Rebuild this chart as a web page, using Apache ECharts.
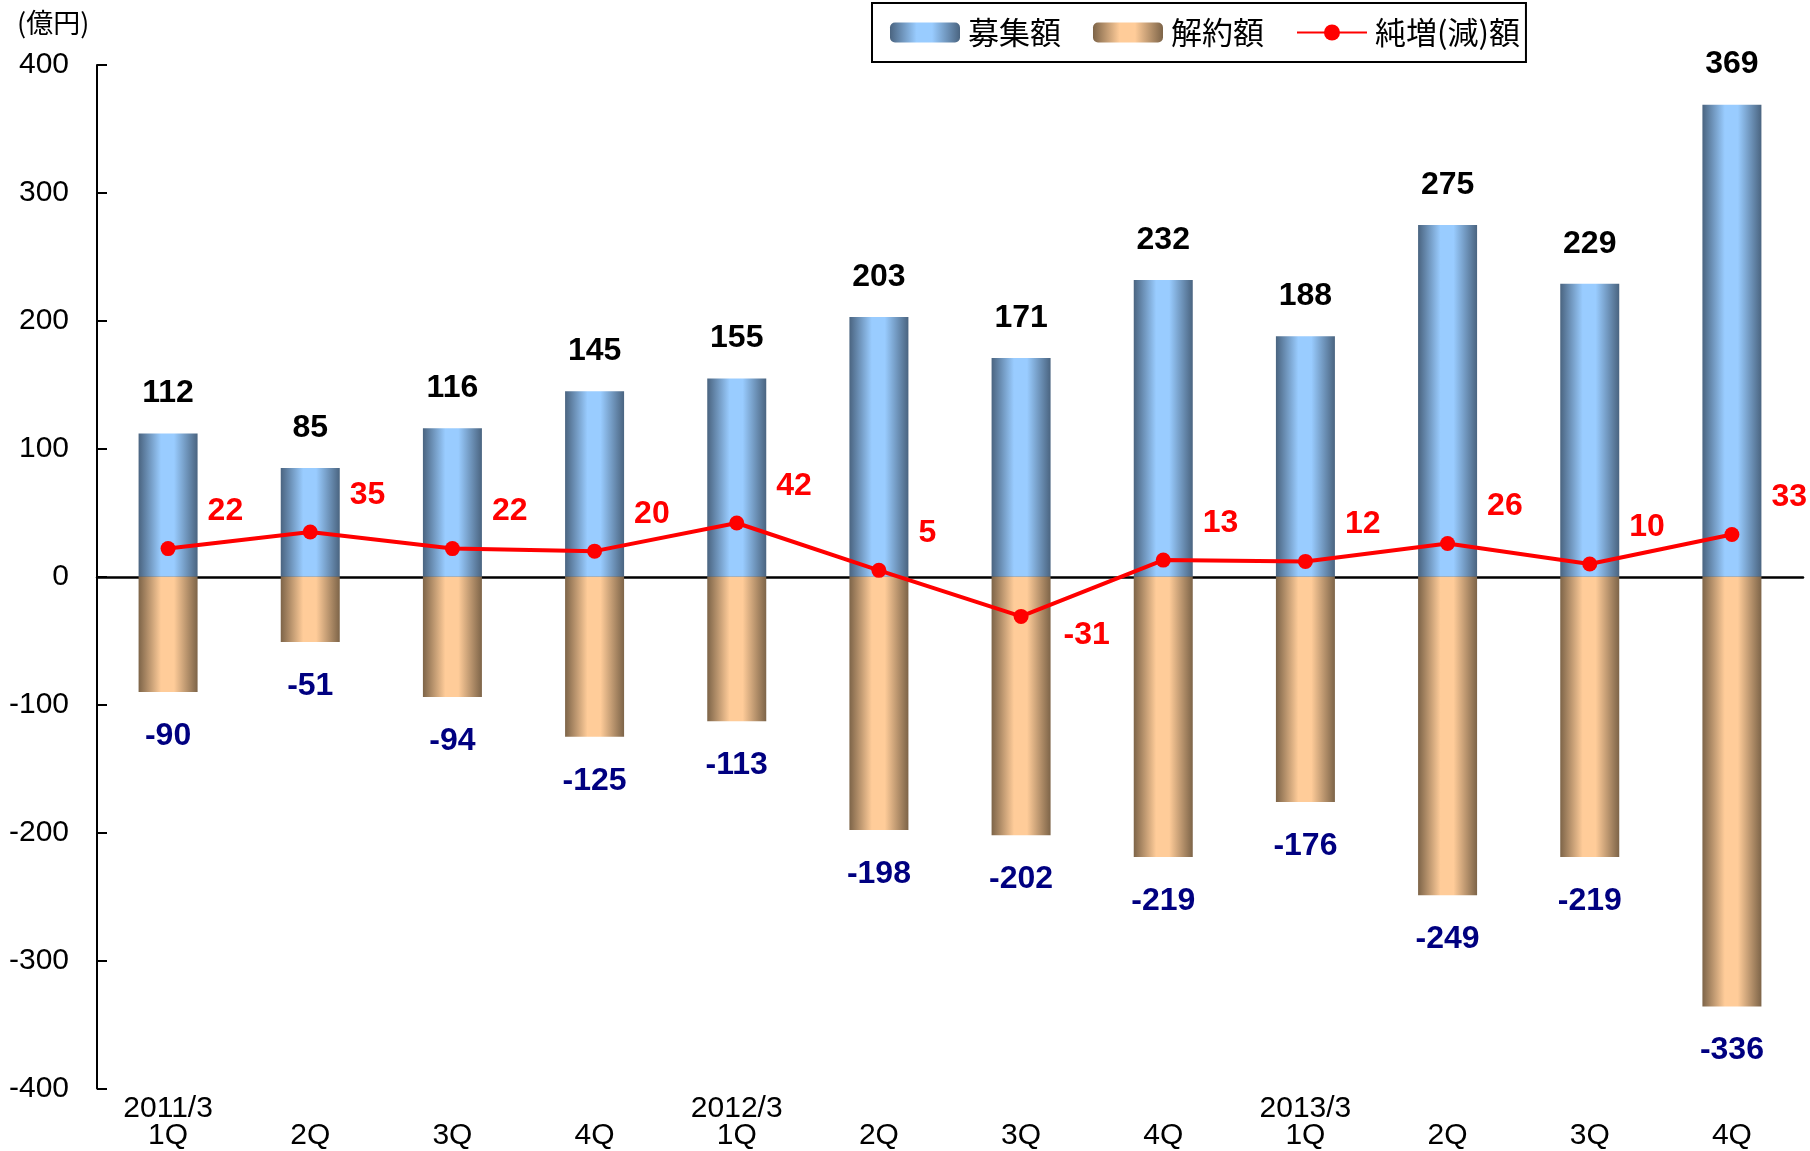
<!DOCTYPE html>
<html>
<head>
<meta charset="utf-8">
<script src="https://cdn.jsdelivr.net/npm/echarts@6/dist/echarts.min.js"></script>
<style>
html,body{margin:0;padding:0;background:#fff;}
#main{width:1810px;height:1151px;}
</style>
</head>
<body>
<div id="main"></div>
<script>
var categories = ['2011/3\n1Q', '\n2Q', '\n3Q', '\n4Q', '2012/3\n1Q', '\n2Q', '\n3Q', '\n4Q', '2013/3\n1Q', '\n2Q', '\n3Q', '\n4Q'];
var inflow = [112, 85, 116, 145, 155, 203, 171, 232, 188, 275, 229, 369];
var outflow = [-90, -51, -94, -125, -113, -198, -202, -219, -176, -249, -219, -336];
var net = [22, 35, 22, 20, 42, 5, -31, 13, 12, 26, 10, 33];
var yTicks = { min: -400, max: 400, interval: 100 };

var numFont = 'Liberation Sans, Arial, sans-serif';
var cjkFont = 'Noto Sans CJK JP, sans-serif';

function barGrad(dark, light) {
    return new echarts.graphic.LinearGradient(0, 0, 1, 0, [
        { offset: 0, color: dark },
        { offset: 0.38, color: light },
        { offset: 0.6, color: light },
        { offset: 1, color: dark }
    ]);
}

var netData = net.map(function (v) {
    return {
        value: v,
        label: { offset: v < 0 ? [30, 19] : [27, -37] }
    };
});

var myChart = echarts.init(document.getElementById('main'));
myChart.setOption({
    animation: false,
    title: {
        text: '(億円)',
        left: 12,
        top: 4,
        textStyle: { fontFamily: cjkFont, fontSize: 27, fontWeight: 'normal', color: '#000' }
    },
    legend: {
        left: 872,
        top: 3,
        padding: [14, 6, 14, 18],
        borderColor: '#000',
        borderWidth: 2,
        itemWidth: 70,
        itemHeight: 20,
        itemGap: 32,
        textStyle: { fontFamily: cjkFont, fontSize: 31, color: '#000', padding: [0, 0, 0, 3] },
        data: ['募集額', '解約額', '純増(減)額']
    },
    grid: { left: 97, right: 7, top: 65, bottom: 59, containLabel: false },
    xAxis: [{
        type: 'category',
        data: categories,
        axisLine: { onZero: true, lineStyle: { color: '#000', width: 2.5 } },
        axisTick: { inside: true, length: 9, lineStyle: { color: '#000', width: 2 } },
        axisLabel: { show: false }
    }, {
        type: 'category',
        position: 'bottom',
        data: categories,
        axisLine: { show: false, onZero: false },
        axisTick: { show: false },
        axisLabel: {
            margin: 7,
            fontFamily: numFont,
            fontSize: 30,
            lineHeight: 27,
            color: '#000',
            interval: 0
        }
    }],
    yAxis: {
        type: 'value',
        min: yTicks.min,
        max: yTicks.max,
        interval: yTicks.interval,
        splitLine: { show: false },
        axisLine: { show: true, lineStyle: { color: '#000', width: 2 } },
        axisTick: { show: true, inside: true, length: 10, lineStyle: { color: '#000', width: 2 } },
        axisLabel: { margin: 28, fontFamily: numFont, fontSize: 30, color: '#000' }
    },
    series: [{
        name: '募集額',
        type: 'bar',
        stack: 'flow',
        barWidth: 59,
        data: inflow,
        itemStyle: { color: barGrad('#4a6480', '#99ccff') },
        label: {
            show: true,
            position: 'top',
            distance: 24,
            fontFamily: numFont,
            fontSize: 32,
            fontWeight: 'bold',
            color: '#000'
        }
    }, {
        name: '解約額',
        type: 'bar',
        stack: 'flow',
        barWidth: 59,
        data: outflow,
        itemStyle: { color: barGrad('#7d6448', '#ffcc99') },
        label: {
            show: true,
            position: 'bottom',
            distance: 28,
            fontFamily: numFont,
            fontSize: 32,
            fontWeight: 'bold',
            color: '#000080'
        }
    }, {
        name: '純増(減)額',
        type: 'line',
        data: netData,
        z: 5,
        symbol: 'circle',
        symbolSize: 15,
        lineStyle: { color: '#ff0000', width: 4 },
        itemStyle: { color: '#ff0000' },
        label: {
            show: true,
            position: 'right',
            distance: 5,
            fontFamily: numFont,
            fontSize: 32,
            fontWeight: 'bold',
            color: '#ff0000'
        }
    }]
});
</script>
</body>
</html>
